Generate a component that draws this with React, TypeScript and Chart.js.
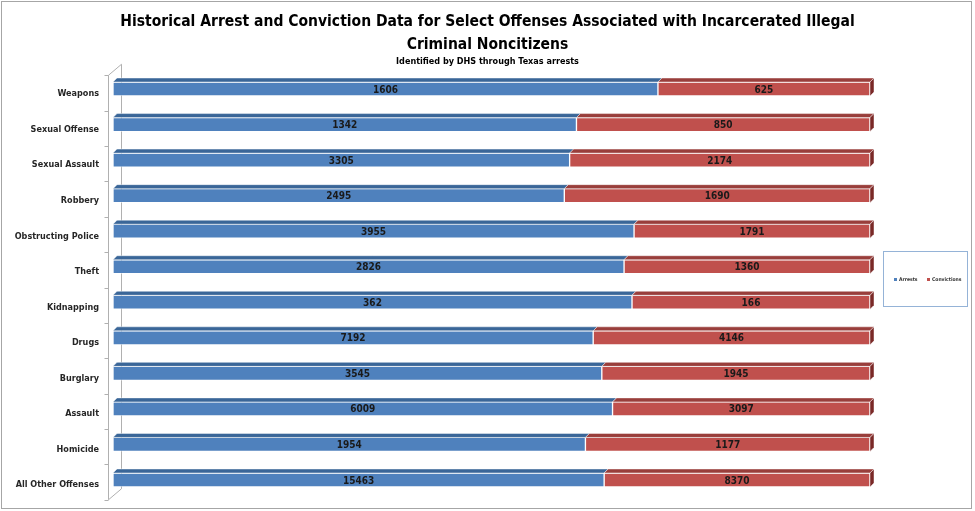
import React, { useEffect, useRef } from 'react';
import { Chart, registerables } from 'chart.js';

Chart.register(...registerables);

const categories = [
  'Weapons',
  'Sexual Offense',
  'Sexual Assault',
  'Robbery',
  'Obstructing Police',
  'Theft',
  'Kidnapping',
  'Drugs',
  'Burglary',
  'Assault',
  'Homicide',
  'All Other Offenses',
];
const arrests = [1606, 1342, 3305, 2495, 3955, 2826, 362, 7192, 3545, 6009, 1954, 15463];
const convictions = [625, 850, 2174, 1690, 1791, 1360, 166, 4146, 1945, 3097, 1177, 8370];
const seriesNames = ['Arrests', 'Convictions'];
const titleLines = [
  'Historical Arrest and Conviction Data for Select Offenses Associated with Incarcerated Illegal',
  'Criminal Noncitizens',
];
const subtitleText = 'Identified by DHS through Texas arrests';

const FONT = "'Liberation Sans Narrow', 'DejaVu Sans Condensed', 'Open Sans', sans-serif";
const FRONT = ['#4F81BD', '#C0504D'];
const TOP = ['#3A6698', '#993E3B'];
const SIDE = '#7A2927';
const DEPTH = 4;

const rawSeries = [arrests, convictions];
const shares = rawSeries.map((s) => s.map((v, i) => (v / (arrests[i] + convictions[i])) * 100));

const plugin3d = {
  id: 'bars3d',
  beforeDraw(chart: any) {
    const ctx = chart.ctx;
    ctx.save();
    ctx.strokeStyle = '#A6A6A6';
    ctx.lineWidth = 1;
    ctx.strokeRect(1.5, 1.5, 970, 507);
    // 3D wall for the category axis
    const ys = chart.scales.y;
    const band = ys.getPixelForValue(1) - ys.getPixelForValue(0);
    const off = 4;
    const top = ys.getPixelForValue(0) - band / 2 + off;
    const bottom = ys.getPixelForValue(categories.length - 1) + band / 2 + off - 2;
    const fx = 108.5;
    const bx = 121.5;
    const dy = 11;
    ctx.strokeStyle = '#B0B0B0';
    ctx.beginPath();
    ctx.moveTo(fx, top);
    ctx.lineTo(fx, bottom);
    ctx.lineTo(bx, bottom - dy);
    ctx.lineTo(bx, top - dy);
    ctx.lineTo(fx, top);
    ctx.stroke();
    ctx.beginPath();
    for (let i = 0; i <= categories.length; i++) {
      const y = Math.round(top + ((bottom - top) * i) / categories.length) + 0.5;
      ctx.moveTo(fx - 4, y);
      ctx.lineTo(fx, y);
    }
    ctx.stroke();
    ctx.restore();
  },
  afterDatasetsDraw(chart: any) {
    const ctx = chart.ctx;
    ctx.save();
    chart.data.datasets.forEach((ds: any, di: number) => {
      const meta = chart.getDatasetMeta(di);
      meta.data.forEach((bar: any) => {
        const { x, y, base, height } = bar.getProps(['x', 'y', 'base', 'height'], true);
        const t = y - height / 2;
        const l = Math.min(x, base);
        const r = Math.max(x, base);
        ctx.fillStyle = TOP[di];
        ctx.strokeStyle = 'rgba(255,255,255,0.45)';
        ctx.lineWidth = 1;
        ctx.beginPath();
        ctx.moveTo(l, t);
        ctx.lineTo(l + DEPTH, t - DEPTH);
        ctx.lineTo(r + DEPTH, t - DEPTH);
        ctx.lineTo(r, t);
        ctx.closePath();
        ctx.fill();
        ctx.stroke();
        if (di === chart.data.datasets.length - 1) {
          ctx.fillStyle = SIDE;
          ctx.beginPath();
          ctx.moveTo(r, t);
          ctx.lineTo(r + DEPTH, t - DEPTH);
          ctx.lineTo(r + DEPTH, t + height - DEPTH);
          ctx.lineTo(r, t + height);
          ctx.closePath();
          ctx.fill();
          ctx.stroke();
        }
      });
    });
    // value labels
    ctx.fillStyle = '#1A1A1A';
    ctx.font = `bold 10px ${FONT}`;
    ctx.textAlign = 'center';
    ctx.textBaseline = 'middle';
    chart.data.datasets.forEach((ds: any, di: number) => {
      const meta = chart.getDatasetMeta(di);
      meta.data.forEach((bar: any, i: number) => {
        const { x, y, base } = bar.getProps(['x', 'y', 'base'], true);
        ctx.fillText(String(rawSeries[di][i]), (x + base) / 2, y + 1);
      });
    });
    ctx.restore();
  },
  afterDraw(chart: any) {
    const ctx = chart.ctx;
    ctx.save();
    ctx.strokeStyle = '#95B3D7';
    ctx.lineWidth = 1;
    ctx.strokeRect(883.5, 251.5, 84, 55);
    ctx.font = `bold 5px ${FONT}`;
    ctx.textBaseline = 'middle';
    ctx.textAlign = 'left';
    const xs = [894, 927];
    chart.data.datasets.forEach((ds: any, di: number) => {
      ctx.fillStyle = FRONT[di];
      ctx.fillRect(xs[di], 278, 3, 3);
      ctx.fillStyle = '#333';
      ctx.fillText(ds.label, xs[di] + 5, 279.5);
    });
    ctx.restore();
  },
};

export default function App() {
  const ref = useRef<HTMLCanvasElement>(null);
  useEffect(() => {
    if (!ref.current) return;
    const chart = new Chart(ref.current, {
      type: 'bar',
      data: {
        labels: categories,
        datasets: seriesNames.map((name, di) => ({
          label: name,
          data: shares[di],
          backgroundColor: FRONT[di],
          borderColor: 'rgba(255,255,255,0.5)',
          borderWidth: 1,
          borderSkipped: false,
          barThickness: 14,
        })),
      },
      options: {
        indexAxis: 'y',
        animation: false,
        responsive: true,
        maintainAspectRatio: false,
        layout: { padding: { left: 0, right: 0, top: 0, bottom: 13.25 } },
        plugins: {
          legend: { display: false },
          tooltip: { enabled: false },
          title: {
            display: true,
            text: titleLines,
            color: '#000',
            font: { family: FONT, size: 15.5, weight: 'bold', lineHeight: 23 / 15.5 },
            padding: { top: 10.5, bottom: 0 },
          },
          subtitle: {
            display: true,
            text: subtitleText,
            color: '#000',
            font: { family: FONT, size: 9, weight: 'bold', lineHeight: 11 / 9 },
            padding: { top: 0, bottom: 3.75 },
          },
        },
        scales: {
          x: { stacked: true, min: 0, max: 100, display: false },
          y: {
            stacked: true,
            position: 'left',
            grid: { display: false, drawTicks: true, tickLength: 14 },
            border: { display: false },
            ticks: {
              color: '#262626',
              font: { family: FONT, size: 9, weight: 'bold' },
              padding: 0,
              labelOffset: 5,
            },
            afterFit: (s: any) => {
              s.width = 113;
            },
          },
          yRight: {
            type: 'linear',
            position: 'right',
            display: true,
            grid: { display: false, drawTicks: false },
            border: { display: false },
            ticks: { display: false },
            afterFit: (s: any) => {
              s.width = 105;
            },
          },
        },
      },
      plugins: [plugin3d],
    } as any);
    return () => chart.destroy();
  }, []);
  return (
    <div style={{ position: 'fixed', left: 0, top: 0, width: 975, height: 511, background: '#fff' }}>
      <canvas ref={ref} />
    </div>
  );
}
